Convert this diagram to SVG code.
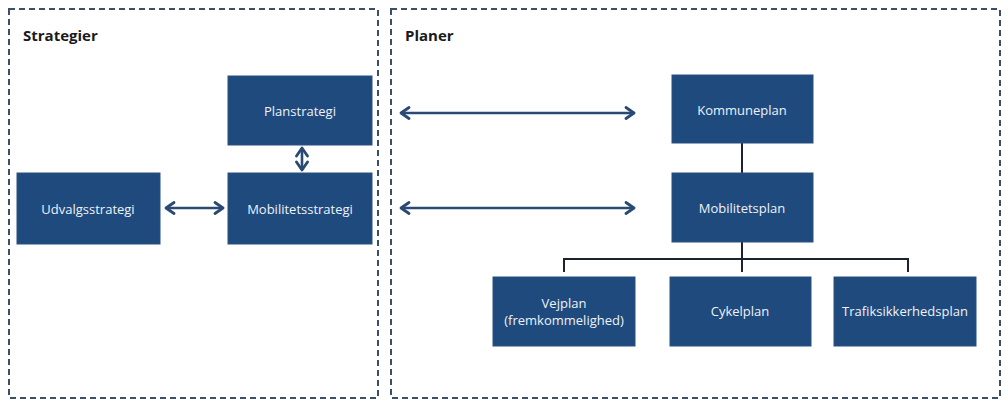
<svg xmlns="http://www.w3.org/2000/svg" width="1008" height="401" viewBox="0 0 1008 401">
<defs>
<marker id="chev" viewBox="0 0 14 14" refX="11" refY="7" markerWidth="14" markerHeight="14" markerUnits="userSpaceOnUse" orient="auto-start-reverse">
<path d="M3,1.5 L11,7 L3,12.5" fill="none" stroke="#2a4a75" stroke-width="2.8" stroke-linecap="round" stroke-linejoin="round"/>
</marker>
</defs>
<style>
.frame{fill:none;stroke:#3d4f66;stroke-width:2;stroke-dasharray:6 4}
.title{font-family:"Open Sans","Liberation Sans",sans-serif;font-size:15px;font-weight:bold;fill:#1a1a1a}
.box{fill:#1f4a7e;stroke:#2a5080;stroke-width:1}
.lbl{font-family:"Open Sans","Liberation Sans",sans-serif;font-size:13px;fill:#eef2f8;text-anchor:middle;dominant-baseline:central}
.arr{fill:none;stroke:#2a4a75;stroke-width:2.6;marker-start:url(#chev);marker-end:url(#chev)}
.tree{fill:none;stroke:#1c2230;stroke-width:2}
</style>
<rect width="1008" height="401" fill="#ffffff"/>
<g id="frame-strategier">
<rect class="frame" x="9" y="9" width="369" height="389"/>
<text class="title" x="23" y="41">Strategier</text>
</g>
<g id="frame-planer">
<rect class="frame" x="391" y="9" width="609" height="389"/>
<text class="title" x="405" y="41">Planer</text>
</g>
<g id="connectors">
<line class="arr" x1="166" y1="208" x2="223" y2="208"/>
<line class="arr" x1="302" y1="148" x2="302" y2="170"/>
<line class="arr" x1="401" y1="113" x2="634" y2="113"/>
<line class="arr" x1="401" y1="208" x2="634" y2="208"/>
<line class="tree" x1="742" y1="143" x2="742" y2="173"/>
<path class="tree" d="M742,242 V259 M564,272 V259 H908 V272 M742,259 V272"/>
</g>
<g id="planstrategi">
<rect class="box" x="228" y="76" width="144" height="69"/>
<text class="lbl" x="300" y="111">Planstrategi</text>
</g>
<g id="mobilitetsstrategi">
<rect class="box" x="228" y="173" width="144" height="71"/>
<text class="lbl" x="300" y="209">Mobilitetsstrategi</text>
</g>
<g id="udvalgsstrategi">
<rect class="box" x="17" y="173" width="143" height="71"/>
<text class="lbl" x="88" y="209">Udvalgsstrategi</text>
</g>
<g id="kommuneplan">
<rect class="box" x="672" y="75" width="141" height="68"/>
<text class="lbl" x="742" y="110">Kommuneplan</text>
</g>
<g id="mobilitetsplan">
<rect class="box" x="672" y="173" width="141" height="69"/>
<text class="lbl" x="742" y="208">Mobilitetsplan</text>
</g>
<g id="vejplan">
<rect class="box" x="493" y="277" width="142" height="69"/>
<text class="lbl" x="564" y="303">Vejplan</text>
<text class="lbl" x="564" y="320">(fremkommelighed)</text>
</g>
<g id="cykelplan">
<rect class="box" x="670" y="277" width="141" height="69"/>
<text class="lbl" x="740" y="311">Cykelplan</text>
</g>
<g id="trafiksikkerhedsplan">
<rect class="box" x="834" y="277" width="142" height="69"/>
<text class="lbl" x="905" y="311">Trafiksikkerhedsplan</text>
</g>
</svg>
